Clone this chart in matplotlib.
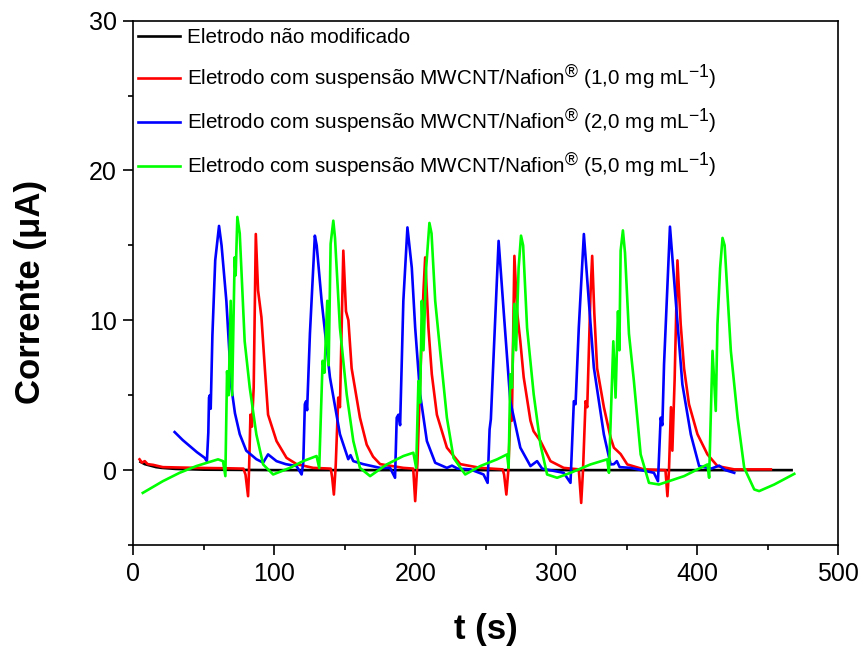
import matplotlib
matplotlib.use('Agg')
import matplotlib.pyplot as plt
import matplotlib._mathtext as mathtext_internal

plt.rcParams['font.family'] = ['Liberation Sans', 'DejaVu Sans']
plt.rcParams['mathtext.fontset'] = 'custom'
plt.rcParams['mathtext.rm'] = 'Liberation Sans'
plt.rcParams['mathtext.it'] = 'Liberation Sans:italic'
plt.rcParams['mathtext.bf'] = 'Liberation Sans:bold'
# superscripts in the original legend are nearly full size
mathtext_internal.SHRINK_FACTOR = 0.85

# Eletrodo nao modificado
t_black = [5, 8, 12, 16, 20, 30, 50, 100, 150, 200, 250, 300, 350, 400, 450, 467]
i_black = [0.55, 0.4, 0.3, 0.2, 0.15, 0.08, 0.03, 0.0, 0.0, 0.0, 0.0, 0.0, 0.0, 0.0, 0.0, 0.0]

# MWCNT/Nafion 1,0 mg/mL
t_red = [4.3, 6, 8, 10, 14, 20.8, 30, 44.6, 68.3, 78, 79.5, 81.3, 82, 83, 84, 85.3, 86.8, 88.4,
         90.8, 93.2, 95.5, 101.5, 108.6, 115.7, 127.5, 140, 141, 142.2, 143.5, 145.3, 146.5,
         148.9, 150.8, 152.5, 154.8, 160.7, 165.5, 170, 175, 191.5, 198.5, 199.9, 201.5, 203.4,
         205.8, 207, 209.3, 211.7, 215.3, 222.4, 231.9, 246.1, 262, 263, 264.6, 266, 267.4,
         268.5, 270.3, 272.2, 274.5, 276.9, 281.7, 283.9, 288.8, 295.9, 305.3, 316, 317.7, 319,
         320.8, 322, 324.3, 325.5, 327, 329, 333.8, 338.6, 340.9, 345.7, 350.4, 362.2, 377.5,
         378.9, 380, 381.4, 382.4, 384, 386, 388.3, 390.7, 394.2, 400.2, 407.3, 414.4, 426.3, 452.3]
i_red = [0.72, 0.5, 0.6, 0.4, 0.35, 0.2, 0.18, 0.15, 0.12, 0.1, -0.3, -1.74, 0.0, 3.7, 2.9, 5.5,
         15.76, 12.0, 10.2, 6.8, 3.7, 1.94, 0.82, 0.4, 0.15, 0.1, -0.5, -1.63, 0.3, 4.84, 4.2,
         14.65, 10.6, 10.0, 6.8, 3.5, 1.7, 0.9, 0.4, 0.15, 0.1, -2.07, 0.5, 5.95, 12.0, 14.2,
         9.5, 6.4, 3.7, 1.5, 0.4, 0.15, 0.05, -0.3, -1.63, 0.0, 3.7, 3.3, 14.3, 10.6, 8.6, 6.2,
         3.3, 2.6, 1.94, 0.6, 0.15, 0.05, -2.19, 0.0, 4.6, 4.2, 11.75, 14.3, 10.5, 6.8, 4.2,
         2.16, 1.5, 1.07, 0.38, 0.05, 0.0, -1.74, 0.0, 4.2, 1.3, 6.0, 14.0, 9.75, 6.8, 4.4, 2.4,
         1.05, 0.27, 0.05, 0.05]

# MWCNT/Nafion 2,0 mg/mL
t_blue = [29.2, 35, 40, 45, 50.5, 52.1, 53.1, 53.6, 54.2, 54.8, 56, 58, 60.7, 62.5, 65.9, 69.5,
          72, 75.4, 80, 87.2, 92, 95.5, 101.5, 108, 115.7, 119.3, 120.5, 121.6, 122.5, 123.2,
          125.2, 128.7, 130, 133.5, 139.4, 146.5, 152.4, 154, 156, 163, 175, 182.1, 185.6, 186.8,
          188, 189.2, 190.4, 191.5, 194.4, 197.5, 199.9, 203.4, 208.2, 214.1, 222.4, 226, 230,
          239, 248.4, 251.3, 252.7, 253.6, 255.6, 259.1, 262.7, 267.4, 274.5, 281.7, 286.4, 290,
          305.3, 310.1, 312.5, 313.7, 316, 319.6, 323.1, 326.7, 333.8, 338.6, 340.9, 343, 345,
          352.8, 369.3, 372.2, 374.1, 375.3, 376.5, 380.7, 384.8, 389.5, 395.5, 401.4, 410,
          415.6, 420, 426.3]
i_blue = [2.54, 2.0, 1.6, 1.2, 0.82, 0.6, 2.5, 4.84, 5.0, 4.1, 9.0, 14.0, 16.3, 15.0, 11.3, 5.5,
          3.8, 2.4, 1.3, 0.73, 0.5, 1.05, 0.6, 0.4, 0.27, -0.29, 0.5, 4.4, 4.6, 4.0, 9.1, 15.65,
          15.0, 11.3, 6.2, 2.4, 0.73, 1.0, 0.6, 0.4, 0.15, 0.15, -0.51, 3.5, 3.7, 3.0, 7.3, 11.3,
          16.2, 13.5, 9.5, 5.06, 1.94, 0.49, 0.15, 0.3, 0.1, 0.05, -0.29, -0.85, 2.72, 3.4, 7.74,
          15.3, 10.6, 4.6, 1.5, 0.27, 0.6, 0.1, -0.18, -0.85, 4.6, 4.4, 9.5, 15.76, 11.3, 6.84,
          2.38, 0.38, 0.4, 0.6, 0.2, 0.15, -0.18, -0.74, 3.5, 3.0, 7.07, 16.25, 11.3, 5.73, 2.38,
          0.27, 0.1, 0.3, 0.0, -0.18]

# MWCNT/Nafion 5,0 mg/mL
t_green = [6.6, 20.8, 32.7, 44.6, 60, 63.5, 65.2, 66.4, 67.5, 69, 70, 71.8, 72.5, 73.7, 75.4,
           78.9, 82.5, 87.2, 92, 99.1, 111, 120.4, 129.9, 131.8, 134.2, 135.5, 137.5, 138.5,
           139.9, 141.8, 143, 146.5, 151.3, 156, 160.7, 167.9, 179.7, 191.5, 198.6, 200.6, 202.2,
           203.4, 204.6, 205.8, 207.7, 210, 211.5, 214.1, 217.6, 222.4, 227.1, 235.4, 246.1, 258,
           265.1, 266.2, 267.4, 268.6, 270.3, 271.5, 273.3, 275, 276.5, 279.3, 284, 288.8, 293.5,
           300.6, 310.1, 324.3, 336.2, 337.4, 340.5, 342.1, 343.8, 344.8, 345.7, 347.3, 348.8,
           351.6, 355.1, 359.9, 365.8, 372.9, 390.7, 400.2, 407.3, 408.5, 410.9, 413.2, 414.4,
           416.3, 418, 419.5, 423.9, 428.7, 433.4, 440.5, 444, 454.7, 468.9]
i_green = [-1.52, -0.74, -0.18, 0.27, 0.72, 0.6, -0.4, 6.6, 5.0, 11.3, 5.0, 14.2, 13.0, 16.9,
           15.8, 8.6, 5.5, 2.38, 0.38, -0.29, 0.15, 0.6, 0.94, 0.15, 7.3, 6.5, 11.3, 7.0, 15.1,
           16.65, 15.5, 9.5, 5.06, 1.94, 0.15, -0.4, 0.38, 0.94, 1.16, 0.15, 5.95, 4.5, 11.3, 8.0,
           13.5, 16.5, 15.8, 11.3, 7.96, 3.5, 0.82, -0.29, 0.27, 0.72, 1.05, 0.15, 6.4, 5.5, 11.1,
           8.0, 13.5, 15.65, 15.0, 9.5, 5.06, 1.7, -0.29, -0.51, -0.18, 0.38, 0.72, -0.18, 8.6,
           4.84, 10.6, 8.0, 14.65, 16.0, 14.5, 9.1, 5.95, 1.05, -0.85, -0.96, -0.4, 0.05, 0.38,
           -0.51, 7.96, 3.95, 9.75, 13.5, 15.5, 15.0, 7.96, 3.5, 0.15, -1.29, -1.4, -0.96, -0.25]

labels = [
    'Eletrodo não modificado',
    r'Eletrodo com suspensão MWCNT/Nafion$^{\mathregular{®}}$ (1,0 mg mL$^{\mathregular{-1}}$)',
    r'Eletrodo com suspensão MWCNT/Nafion$^{\mathregular{®}}$ (2,0 mg mL$^{\mathregular{-1}}$)',
    r'Eletrodo com suspensão MWCNT/Nafion$^{\mathregular{®}}$ (5,0 mg mL$^{\mathregular{-1}}$)',
]

fig = plt.figure(figsize=(8.64, 6.46), dpi=100)
ax = fig.add_axes([0.1545, 0.1563, 0.8155, 0.8117])

ax.plot(t_black, i_black, color='black', lw=1.9, label=labels[0])
ax.plot(t_red, i_red, color='#ff0000', lw=1.9, label=labels[1])
ax.plot(t_blue, i_blue, color='#0000ff', lw=1.9, label=labels[2])
ax.plot(t_green, i_green, color='#00ff00', lw=1.9, label=labels[3])

ax.set_xlim(0, 500)
ax.set_ylim(-5, 30)
ax.set_xticks([0, 100, 200, 300, 400, 500])
ax.set_xticks([50, 150, 250, 350, 450], minor=True)
ax.set_yticks([0, 10, 20, 30])
ax.set_yticks([-5, 5, 15, 25], minor=True)
ax.tick_params(which='major', direction='out', length=7, width=1.2, labelsize=18, pad=5)
ax.tick_params(which='minor', direction='out', length=3.5, width=1.2)
for s in ax.spines.values():
    s.set_linewidth(1.2)

ax.set_xlabel('t (s)', fontsize=25, fontweight='bold', labelpad=20)
ax.set_ylabel('Corrente (μA)', fontsize=25, fontweight='bold')
ax.yaxis.set_label_coords(-0.123, 0.482)

ax.legend(loc='upper left', bbox_to_anchor=(0.0, 0.993), frameon=False, fontsize=14.9,
          handlelength=2.03, handletextpad=0.34, labelspacing=0.72, borderpad=0.2,
          borderaxespad=0.0)

fig.savefig('out.png', dpi=100)
